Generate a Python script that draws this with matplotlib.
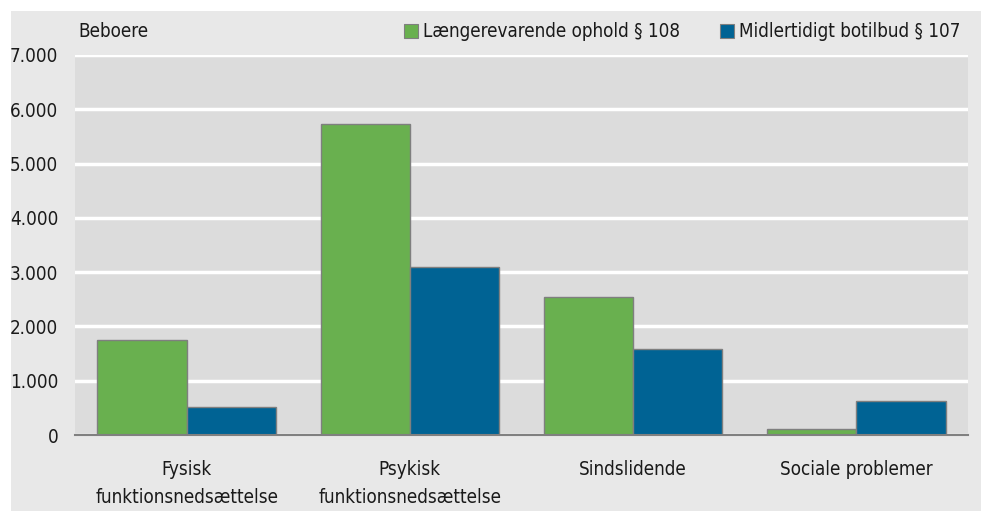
import matplotlib.pyplot as plt
from matplotlib.patches import Rectangle
import numpy as np

plt.rcParams['font.family'] = ['DejaVu Sans']
plt.rcParams['font.stretch'] = 'condensed'

categories = ['Fysisk\nfunktionsnedsættelse', 'Psykisk\nfunktionsnedsættelse',
              'Sindslidende', 'Sociale problemer']
laengere = [1745, 5725, 2545, 115]
midlertidig = [520, 3100, 1585, 630]
series_names = ['Længerevarende ophold § 108', 'Midlertidigt botilbud § 107']
yticks = [0, 1000, 2000, 3000, 4000, 5000, 6000, 7000]
ytick_labels = ['0', '1.000', '2.000', '3.000', '4.000', '5.000', '6.000', '7.000']

green = '#69b04f'
blue = '#006394'
fs = 13.5

fig = plt.figure(figsize=(9.81, 5.11), dpi=100)
fig.patch.set_facecolor('white')
# grey panel behind everything (leaves white strip top/left)
fig.patches.append(Rectangle((11 / 981, 0), 1, 1 - 11 / 511, transform=fig.transFigure,
                             facecolor='#e8e8e8', edgecolor='none', zorder=-10))

ax = fig.add_axes([75 / 981, 1 - 435 / 511, (968 - 75) / 981, (435 - 55) / 511])
ax.set_facecolor('#dcdcdc')

x = np.arange(len(categories))
w = 0.4
ax.bar(x - w / 2, laengere, w, color=green, edgecolor='#7f7f7f', linewidth=1, zorder=3)
ax.bar(x + w / 2, midlertidig, w, color=blue, edgecolor='#7f7f7f', linewidth=1, zorder=3)

ax.set_xlim(-0.5, 3.5)
ax.set_ylim(0, 7000)
ax.set_yticks(yticks)
ax.set_yticklabels(ytick_labels)
ax.set_xticks(x)
ax.set_xticklabels(categories, linespacing=1.6)
ax.tick_params(axis='both', length=0, labelsize=fs, colors='#1a1a1a')
ax.tick_params(axis='y', pad=12)
ax.tick_params(axis='x', pad=18)

ax.grid(axis='y', color='white', linewidth=2.5, zorder=1)
ax.set_axisbelow(True)
for s in ['top', 'right', 'left']:
    ax.spines[s].set_visible(False)
ax.spines['bottom'].set_color('#808080')
ax.spines['bottom'].set_linewidth(1.5)
ax.spines['bottom'].set_zorder(4)

fig.text(78 / 981, 1 - 31 / 511, 'Beboere', fontsize=fs, va='center', ha='left', color='#1a1a1a')

# legend drawn as boxes + texts in figure coords
leg_items = [(404, green, series_names[0]), (720, blue, series_names[1])]
for px, col, name in leg_items:
    fig.patches.append(Rectangle((px / 981, 1 - 38 / 511), 14 / 981, 14 / 511,
                                 transform=fig.transFigure, facecolor=col,
                                 edgecolor='#7f7f7f', linewidth=0.8, zorder=2))
    fig.text((px + 19) / 981, 1 - 31 / 511, name, fontsize=fs, va='center',
             ha='left', color='#1a1a1a')

fig.savefig('out.png', dpi=100, facecolor=fig.get_facecolor())
